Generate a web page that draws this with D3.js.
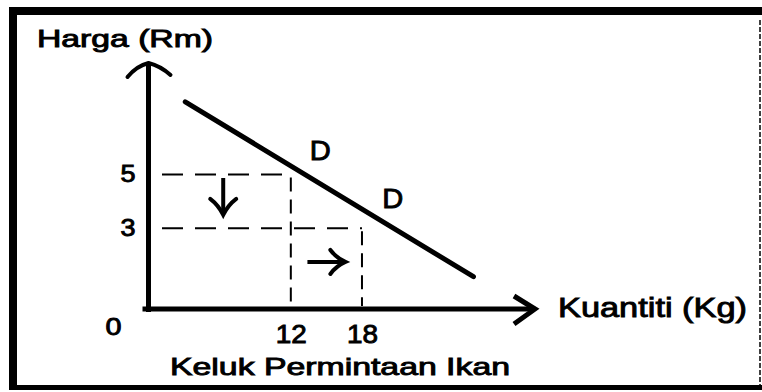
<!DOCTYPE html>
<html><head><meta charset="utf-8">
<script src="https://cdn.jsdelivr.net/npm/d3@7"></script>
<style>html,body{margin:0;padding:0;background:#fff;} svg{display:block;}</style>
</head><body>
<script>
// ---- data ----
const priceTicks = [3, 5];
const quantityTicks = [12, 18];
const originLabel = "0";
const demandCurve = [ {q: 3.1, p: 7.7}, {q: 27.4, p: 1.2} ];
const pricePoints = [ {q: 12, p: 5}, {q: 18, p: 3} ];
const demandLabels = [ {text: "D", q: 13.6, p: 5.55}, {text: "D", q: 19.7, p: 3.75} ];
const yTitle = "Harga (Rm)";
const xTitle = "Kuantiti (Kg)";
const caption = "Keluk Permintaan Ikan";
const priceArrow = {q: 6.3, from: 4.87, to: 3.5};
const qtyArrow = {p: 1.75, from: 13.4, to: 16.6};

// ---- layout ----
const W = 762, H = 392;
const FONT = "'Liberation Sans', Arial, sans-serif";
const TS = 0.9; // text stroke for heavier look
const svg = d3.select("body").append("svg").attr("width", W).attr("height", H);
svg.append("rect").attr("width", W).attr("height", H).attr("fill", "#fff");

const x = d3.scaleLinear().domain([0, 30]).range([148.5, 148.5 + 30 * 11.86]);
const y = d3.scaleLinear().domain([0, 9]).range([309, 309 - 9 * 26.9]);

// frame
svg.append("rect").attr("x", 9).attr("y", 7).attr("width", 8).attr("height", 383).attr("fill", "#000");
svg.append("rect").attr("x", 9).attr("y", 7).attr("width", W - 9).attr("height", 8).attr("fill", "#000");
svg.append("rect").attr("x", 9).attr("y", 385).attr("width", W - 9).attr("height", 5).attr("fill", "#000");
svg.append("line").attr("x1", 760).attr("x2", 760).attr("y1", 20).attr("y2", 385)
  .attr("stroke", "#000").attr("stroke-width", 1.5).attr("stroke-dasharray", "5,2");

// dashed guide lines
const g = svg.append("g");
const startQ = x.invert(162);
pricePoints.forEach(d => {
  g.append("line").attr("x1", x(startQ)).attr("x2", x(d.q)).attr("y1", y(d.p)).attr("y2", y(d.p))
    .attr("stroke", "#000").attr("stroke-width", 2).attr("stroke-dasharray", "21,12");
  g.append("line").attr("x1", x(d.q)).attr("x2", x(d.q)).attr("y1", y(d.p) + 3).attr("y2", y(0) - 3)
    .attr("stroke", "#000").attr("stroke-width", 2).attr("stroke-dasharray", "14,8");
});

// axes lines
svg.append("line").attr("x1", x(0)).attr("x2", x(0)).attr("y1", y(0) + 3).attr("y2", 64)
  .attr("stroke", "#000").attr("stroke-width", 5);
svg.append("line").attr("x1", x(0) - 6).attr("x2", 533).attr("y1", y(0)).attr("y2", y(0))
  .attr("stroke", "#000").attr("stroke-width", 5);
// arrowheads
svg.append("path").attr("d", `M${x(0)-21},77 Q${x(0)-12},66 ${x(0)},63 Q${x(0)+12},66 ${x(0)+22},75`)
  .attr("fill", "none").attr("stroke", "#000").attr("stroke-width", 4).attr("stroke-linecap", "round");
svg.append("path").attr("d", `M514,296 L535,${y(0)} L514,324`)
  .attr("fill", "none").attr("stroke", "#000").attr("stroke-width", 5).attr("stroke-linejoin", "miter");

// tick labels via axes
const yAxis = d3.axisLeft(y).tickValues(priceTicks).tickSize(0).tickPadding(13);
const ya = svg.append("g").attr("transform", `translate(${x(0)},0)`).call(yAxis);
ya.select(".domain").remove();
ya.selectAll("text").attr("font-family", FONT).attr("font-size", 23).attr("fill", "#000")
  .attr("stroke", "#000").attr("stroke-width", TS).attr("textLength", 15).attr("lengthAdjust", "spacingAndGlyphs");

const xAxis = d3.axisBottom(x).tickValues(quantityTicks).tickSize(0).tickPadding(16);
const xa = svg.append("g").attr("transform", `translate(0,${y(0)})`).call(xAxis);
xa.select(".domain").remove();
xa.selectAll("text").attr("font-family", FONT).attr("font-size", 25).attr("fill", "#000")
  .attr("stroke", "#000").attr("stroke-width", TS).attr("textLength", 31).attr("lengthAdjust", "spacingAndGlyphs");

function label(t, px, py, size, len, anchor) {
  const el = svg.append("text").attr("x", px).attr("y", py).text(t)
    .attr("font-family", FONT).attr("font-size", size).attr("fill", "#000")
    .attr("stroke", "#000").attr("stroke-width", TS)
    .attr("text-anchor", anchor || "start");
  if (len) el.attr("textLength", len).attr("lengthAdjust", "spacingAndGlyphs");
  return el;
}
label(originLabel, x(0) - 35, y(0) + 26, 23, 16, "middle");
label(yTitle, 37, 47, 23, 176);
label(xTitle, 558, 317, 27, 189);
label(caption, 170, 375, 24, 340);

// demand curve
const line = d3.line().x(d => x(d.q)).y(d => y(d.p));
svg.append("path").datum(demandCurve).attr("d", line)
  .attr("fill", "none").attr("stroke", "#000").attr("stroke-width", 5).attr("stroke-linecap", "round");

demandLabels.forEach(d => label(d.text, x(d.q), y(d.p), 27, 21));

// small arrows
const ax = x(priceArrow.q), ay1 = y(priceArrow.from), ay2 = y(priceArrow.to);
svg.append("line").attr("x1", ax).attr("x2", ax).attr("y1", ay1).attr("y2", ay2 - 2)
  .attr("stroke", "#000").attr("stroke-width", 4);
svg.append("path").attr("d", `M${ax-13},${ay2-16} Q${ax-5},${ay2-10} ${ax},${ay2} Q${ax+5},${ay2-10} ${ax+13},${ay2-16}`)
  .attr("fill", "none").attr("stroke", "#000").attr("stroke-width", 4).attr("stroke-linecap", "round");

const by = y(qtyArrow.p), bx1 = x(qtyArrow.from), bx2 = x(qtyArrow.to);
svg.append("line").attr("x1", bx1).attr("x2", bx2 - 2).attr("y1", by).attr("y2", by)
  .attr("stroke", "#000").attr("stroke-width", 4);
svg.append("path").attr("d", `M${bx2-15},${by-12} Q${bx2-9},${by-4} ${bx2},${by} Q${bx2-9},${by+4} ${bx2-15},${by+12}`)
  .attr("fill", "none").attr("stroke", "#000").attr("stroke-width", 4).attr("stroke-linecap", "round");
</script>
</body></html>
